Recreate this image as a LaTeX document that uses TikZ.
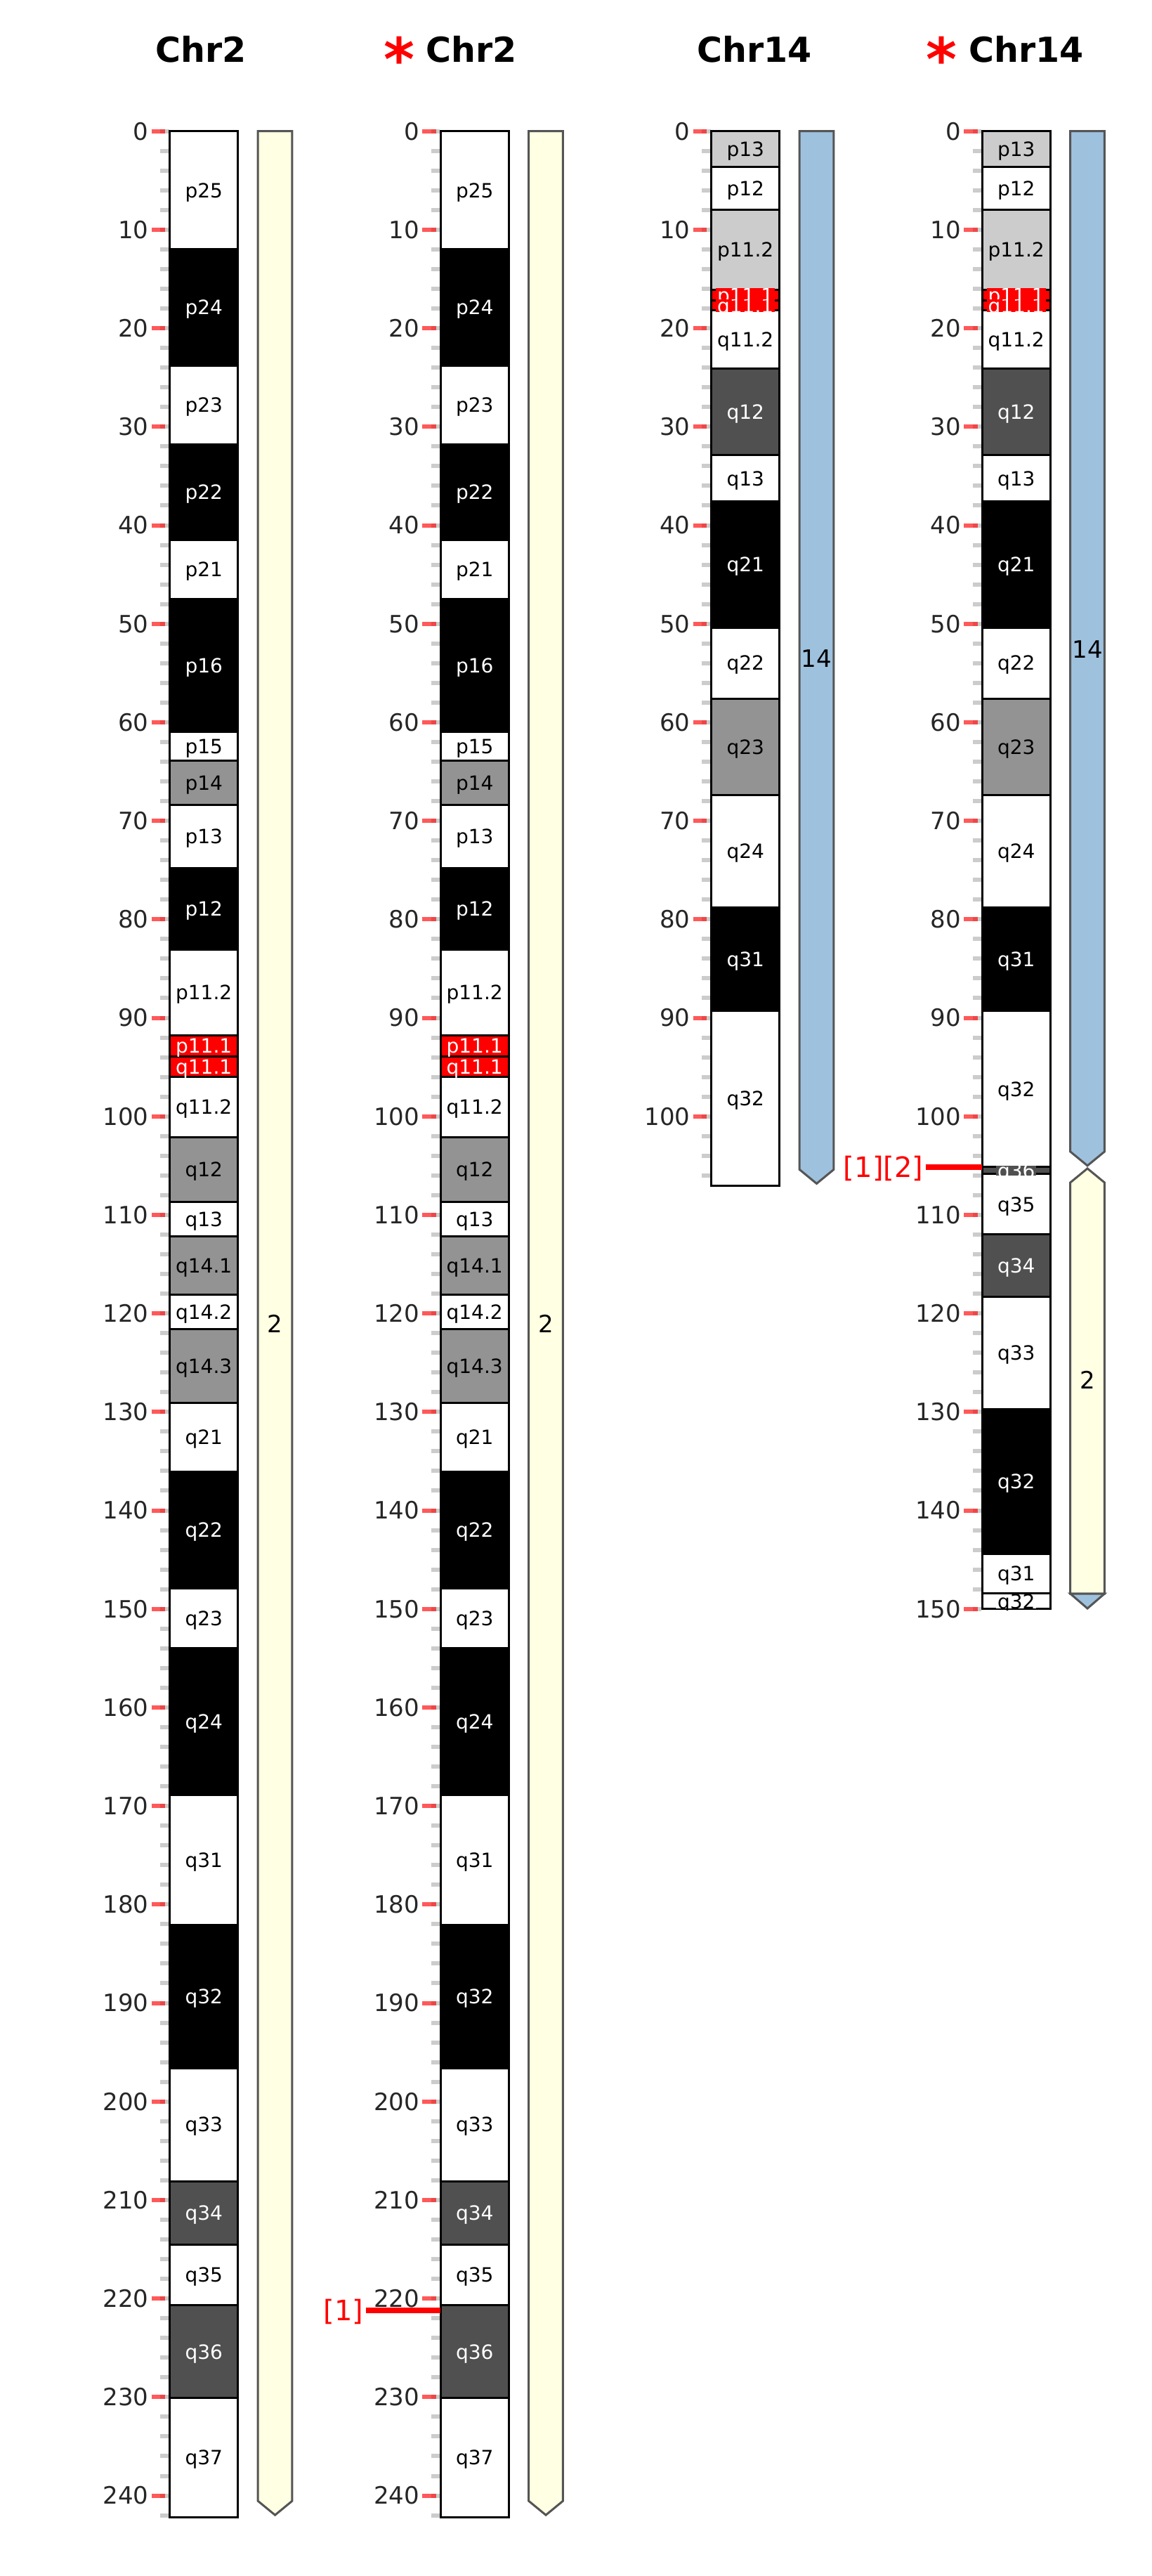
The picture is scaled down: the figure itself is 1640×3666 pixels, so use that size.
\documentclass[tikz,border=0pt]{standalone}
\usepackage{fontspec}
\setmainfont{DejaVu Sans}
\definecolor{gposfifty}{HTML}{939393}
\definecolor{gposseventy}{HTML}{505050}
\definecolor{gvarcol}{HTML}{CCCCCC}
\definecolor{acencol}{HTML}{FF0000}
\definecolor{yelbar}{HTML}{FFFFE3}
\definecolor{blubar}{HTML}{9EC1DE}
\definecolor{barstroke}{HTML}{555555}
\definecolor{tickgray}{HTML}{CCCCCC}
\definecolor{ticktext}{HTML}{262626}
\tikzset{
 bandline/.style={draw=black, line width=3pt},
 bandlab/.style={font=\fontsize{28}{28}\selectfont, inner xsep=2pt, inner ysep=0pt, text height=20.4pt, text depth=0pt, anchor=center},
 ticklab/.style={font=\fontsize{34}{34}\selectfont, text=ticktext, inner sep=0pt, text height=24.8pt, text depth=0pt, anchor=east},
 minortick/.style={draw=tickgray, line width=6pt},
 majortick/.style={draw=red, draw opacity=0.65, line width=6pt},
 barshape/.style={draw=barstroke, line width=3pt, line join=miter},
 barlab/.style={font=\fontsize{34}{34}\selectfont, inner sep=0pt, text height=24.8pt, text depth=0pt},
 titlelab/.style={font=\fontsize{49}{49}\selectfont\bfseries, inner sep=0pt, anchor=base},
 astlab/.style={font=\fontsize{84}{84}\selectfont\bfseries, text=red, inner sep=0pt, anchor=base},
 brklab/.style={font=\fontsize{40}{40}\selectfont, text=red, inner sep=0pt, text height=29.2pt, text depth=0pt, anchor=east},
 brkline/.style={draw=red, line width=8.5pt},
}
\def\chrTwo{0/12.0/white/black/p25, 12.0/23.8/black/white/p24, 23.8/31.8/white/black/p23, 31.8/41.5/black/white/p22, 41.5/47.5/white/black/p21, 47.5/61.0/black/white/p16, 61.0/63.9/white/black/p15, 63.9/68.4/gposfifty/black/p14, 68.4/74.8/white/black/p13, 74.8/83.1/black/white/p12, 83.1/91.8/white/black/p11.2, 91.8/93.9/acencol/white/p11.1, 93.9/96.0/acencol/white/q11.1, 96.0/102.1/white/black/q11.2, 102.1/108.7/gposfifty/black/q12, 108.7/112.2/white/black/q13, 112.2/118.1/gposfifty/black/q14.1, 118.1/121.6/white/black/q14.2, 121.6/129.1/gposfifty/black/q14.3, 129.1/136.1/white/black/q21, 136.1/147.9/black/white/q22, 147.9/154.0/white/black/q23, 154.0/168.9/black/white/q24, 168.9/182.1/white/black/q31, 182.1/196.6/black/white/q32, 196.6/208.1/white/black/q33, 208.1/214.5/gposseventy/white/q34, 214.5/220.7/white/black/q35, 220.7/230.1/gposseventy/white/q36, 230.1/242.19/white/black/q37}
\def\chrFourteen{0/3.6/gvarcol/black/p13, 3.6/8.0/white/black/p12, 8.0/16.1/gvarcol/black/p11.2, 16.1/17.2/acencol/white/p11.1, 17.2/18.2/acencol/white/q11.1, 18.2/24.1/white/black/q11.2, 24.1/32.9/gposseventy/white/q12, 32.9/37.6/white/black/q13, 37.6/50.4/black/white/q21, 50.4/57.6/white/black/q22, 57.6/67.4/gposfifty/black/q23, 67.4/78.8/white/black/q24, 78.8/89.3/black/white/q31, 89.3/107.04/white/black/q32}
\def\derFourteen{0/3.6/gvarcol/black/p13, 3.6/8.0/white/black/p12, 8.0/16.1/gvarcol/black/p11.2, 16.1/17.2/acencol/white/p11.1, 17.2/18.2/acencol/white/q11.1, 18.2/24.1/white/black/q11.2, 24.1/32.9/gposseventy/white/q12, 32.9/37.6/white/black/q13, 37.6/50.4/black/white/q21, 50.4/57.6/white/black/q22, 57.6/67.4/gposfifty/black/q23, 67.4/78.8/white/black/q24, 78.8/89.3/black/white/q31, 89.3/105.15/white/black/q32, 105.15/105.85/gposseventy/white/q36, 105.85/112.0/white/black/q35, 112.0/118.3/gposseventy/white/q34, 118.3/129.75/white/black/q33, 129.75/144.4/black/white/q32, 144.4/148.45/white/black/q31, 148.45/150.0/white/black/q32}
\newcommand{\drawchrom}[3]{%
  \foreach \a/\b/\f/\t/\l in #1 {
    \fill[fill=\f] (#2,{186.7+14.02*\a}) rectangle ({#2+97},{186.7+14.02*\b});
  }
  \foreach \a/\b/\f/\t/\l in #1 {
    \draw[bandline] (#2,{186.7+14.02*\a}) rectangle ({#2+97},{186.7+14.02*\b});
  }
  \foreach \a/\b/\f/\t/\l [count=\i] in #1 {
    \begin{scope}
      \clip (#2,{186.7+14.02*\a-1.5}) rectangle ({#2+97},{186.7+14.02*\b+1.5});
      \node[bandlab, fill=\f, text=\t] (#3-\i) at ({#2+48.5},{186.7+7.01*(\a+\b)}) {\l};
    \end{scope}
  }
}
\newcommand{\drawruler}[4]{%
  \foreach \u in {0,2,...,#2} {
    \draw[minortick] ({#1-13.4},{186.7+14.02*\u}) -- ({#1-1},{186.7+14.02*\u});
  }
  \foreach \u in {0,10,...,#3} {
    \draw[majortick] ({#1-26},{186.7+14.02*\u}) -- ({#1-6.7},{186.7+14.02*\u});
    \node[ticklab] (#4-\u) at ({#1-30},{186.7+14.02*\u}) {\u};
  }
}
\begin{document}
\begin{tikzpicture}[x=1pt, y=-1pt]
\fill[white] (0,0) rectangle (1640,3666);
\useasboundingbox (0,0) rectangle (1640,3666);
% titles
\node[titlelab] (title1) at (286.5,88.3) {Chr2};
\node[astlab] (ast1) at (568.3,115) {*};
\node[titlelab] (title2) at (671.5,88.3) {Chr2};
\node[titlelab] (title3) at (1074.3,88.3) {Chr14};
\node[astlab] (ast2) at (1340,115) {*};
\node[titlelab] (title4) at (1460.8,88.3) {Chr14};
% rulers
\drawruler{241.7}{242}{240}{ra}
\drawruler{627.2}{242}{240}{rb}
\drawruler{1012.7}{106}{100}{rc}
\drawruler{1398.2}{150}{150}{rd}
% chromosomes
\drawchrom{\chrTwo}{241.7}{ca}
\drawchrom{\chrTwo}{627.2}{cb}
\drawchrom{\chrFourteen}{1012.7}{cc}
\drawchrom{\derFourteen}{1398.2}{cd}
% side bars
\draw[barshape, fill=yelbar] (367.2,186.7) -- (415.9,186.7) -- (415.9,3559.2) -- (391.55,3579.2) -- (367.2,3559.2) -- cycle;
\node[barlab] (bla) at (391.55,1884.5) {2};
\draw[barshape, fill=yelbar] (752.7,186.7) -- (801.4,186.7) -- (801.4,3559.2) -- (777.05,3579.2) -- (752.7,3559.2) -- cycle;
\node[barlab] (blb) at (777.05,1884.5) {2};
\draw[barshape, fill=blubar] (1138.2,186.7) -- (1186.9,186.7) -- (1186.9,1664.4) -- (1162.55,1684.4) -- (1138.2,1664.4) -- cycle;
\node[barlab] (blc) at (1162.55,937.1) {14};
\draw[barshape, fill=blubar] (1523.7,186.7) -- (1572.4,186.7) -- (1572.4,1638.9) -- (1548.05,1658.9) -- (1523.7,1638.9) -- cycle;
\node[barlab] (bld) at (1548.05,923.8) {14};
\draw[barshape, fill=yelbar] (1548.05,1662.9) -- (1572.4,1682.9) -- (1572.4,2268) -- (1523.7,2268) -- (1523.7,1682.9) -- cycle;
\node[barlab] (ble) at (1548.05,1964.4) {2};
\draw[barshape, fill=blubar] (1523.7,2268) -- (1572.4,2268) -- (1548.05,2289) -- cycle;
% breakpoints
\coordinate (brka) at (627.2,3288.2);
\node[brklab] (laba) at (517.5,3288.2) {[1]};
\draw[brkline] ([xshift=3pt]laba.east) -- (brka);
\coordinate (brkb) at (1398.2,1661.2);
\node[brklab] (labb) at (1314.5,1661.2) {[1][2]};
\draw[brkline] ([xshift=3pt]labb.east) -- (brkb);
\end{tikzpicture}
\end{document}
